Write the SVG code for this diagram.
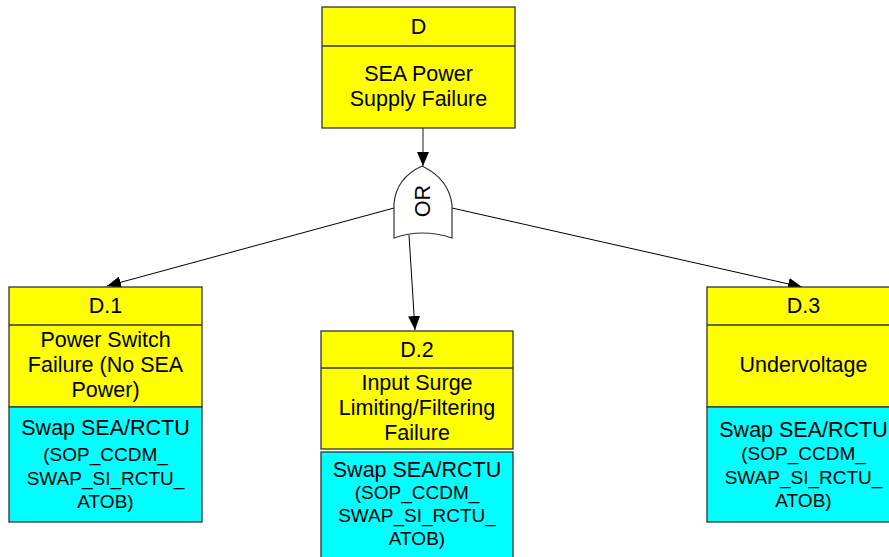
<svg xmlns="http://www.w3.org/2000/svg" width="889" height="557" viewBox="0 0 889 557">
<defs>
<style>
.y{fill:#FFFF00;stroke:#333;stroke-width:1.3}
.c{fill:#00FFFF;stroke:#333;stroke-width:1.3}
.t{font-family:"Liberation Sans",Arial,sans-serif;font-size:21.5px;fill:#000;text-anchor:middle}
.s{font-size:19px}
.ln{stroke:#000;stroke-width:1;fill:none}
</style>
<marker id="ah" viewBox="0 0 14 12" refX="14" refY="6" markerWidth="14" markerHeight="12" markerUnits="userSpaceOnUse" orient="auto">
<path d="M0,0 L14,6 L0,12 z" fill="#000"/>
</marker>
</defs>
<rect width="889" height="557" fill="#fff"/>
<g id="connectors">
<line x1="423" y1="128" x2="423" y2="166" style="stroke:#666;stroke-width:1.5" marker-end="url(#ah)"/>
<line class="ln" x1="394" y1="208" x2="107" y2="286" marker-end="url(#ah)"/>
<line class="ln" x1="409" y1="235" x2="415" y2="330" marker-end="url(#ah)"/>
<line class="ln" x1="452" y1="208" x2="802" y2="287" marker-end="url(#ah)"/>
</g>
<g id="gate-or">
<path d="M422,166 Q396,178 394,204 L394,238 Q422,228 452,238 L452,205 Q449,179 422,166 Z" fill="#fff" stroke="#333" stroke-width="1.2"/>
<text class="t" transform="translate(430,201) rotate(-90)">OR</text>
</g>
<g id="node-D">
<rect class="y" x="322" y="7" width="193" height="121"/>
<line x1="322" y1="46" x2="515" y2="46" stroke="#333" stroke-width="1.3"/>
<text class="t" x="418.5" y="34">D</text>
<text class="t" x="418.5" y="81">SEA Power</text>
<text class="t" x="418.5" y="106">Supply Failure</text>
</g>
<g id="node-D1">
<rect class="y" x="9" y="287" width="193" height="120"/>
<line x1="9" y1="325" x2="202" y2="325" stroke="#333" stroke-width="1.3"/>
<rect class="c" x="9" y="407" width="193" height="115"/>
<text class="t" x="105.5" y="313">D.1</text>
<text class="t" x="105.5" y="347">Power Switch</text>
<text class="t" x="105.5" y="372">Failure (No SEA</text>
<text class="t" x="105.5" y="397">Power)</text>
<text class="t" x="105.5" y="435">Swap SEA/RCTU</text>
<text class="t s" x="105.5" y="461">(SOP_CCDM_</text>
<text class="t s" x="105.5" y="485">SWAP_SI_RCTU_</text>
<text class="t s" x="105.5" y="508">ATOB)</text>
</g>
<g id="node-D2">
<rect class="y" x="321" y="331" width="192" height="118"/>
<line x1="321" y1="368" x2="513" y2="368" stroke="#333" stroke-width="1.3"/>
<rect class="c" x="321" y="452" width="192" height="115"/>
<text class="t" x="417" y="357">D.2</text>
<text class="t" x="417" y="390">Input Surge</text>
<text class="t" x="417" y="415">Limiting/Filtering</text>
<text class="t" x="417" y="440">Failure</text>
<text class="t" x="417" y="477">Swap SEA/RCTU</text>
<text class="t s" x="417" y="499">(SOP_CCDM_</text>
<text class="t s" x="417" y="522">SWAP_SI_RCTU_</text>
<text class="t s" x="417" y="545">ATOB)</text>
</g>
<g id="node-D3">
<rect class="y" x="707" y="287" width="193" height="120"/>
<line x1="707" y1="325" x2="900" y2="325" stroke="#333" stroke-width="1.3"/>
<rect class="c" x="707" y="407" width="193" height="115"/>
<text class="t" x="803.5" y="313">D.3</text>
<text class="t" x="803.5" y="372">Undervoltage</text>
<text class="t" x="803.5" y="437">Swap SEA/RCTU</text>
<text class="t s" x="803.5" y="460">(SOP_CCDM_</text>
<text class="t s" x="803.5" y="484">SWAP_SI_RCTU_</text>
<text class="t s" x="803.5" y="507">ATOB)</text>
</g>
</svg>
